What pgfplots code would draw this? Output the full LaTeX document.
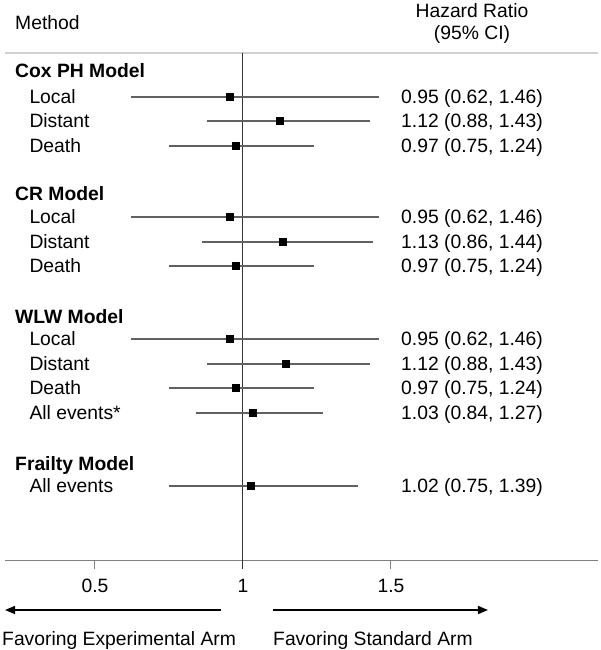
\documentclass[border=0pt]{standalone}
\usepackage{fontspec}
\setmainfont{Liberation Sans}
\usepackage{pgfplots}
\usepackage{pgfplotstable}
\pgfplotsset{compat=1.18}
\usetikzlibrary{arrows.meta}

% y = pixel row from top, hr = marker position, lo/hi = CI limits
\pgfplotstableread{
y hr lo hi
97 0.955 0.62 1.46
121 1.125 0.88 1.43
146 0.975 0.75 1.24
217 0.955 0.62 1.46
242 1.135 0.86 1.44
266 0.975 0.75 1.24
339 0.955 0.62 1.46
364 1.145 0.88 1.43
388 0.975 0.75 1.24
413 1.034 0.84 1.27
486 1.027 0.75 1.39
}\hrdata

\newcommand{\f}{\fontsize{19.3}{23}\selectfont}
\tikzset{t/.style={font=\f, inner sep=0pt, text=black},
         tb/.style={font=\f\bfseries, inner sep=0pt, text=black}}

\begin{document}
\begin{tikzpicture}
\begin{axis}[name=ax, scale only axis, width=600pt, height=650pt,
  xmin=0.1791, xmax=2.2061, ymin=0, ymax=650, y dir=reverse,
  hide axis, clip=false]
% frame lines
\addplot[draw=black!18, line width=2pt] coordinates {(0.1960,53) (2.1994,53)};
\addplot[draw=black!50, line width=1pt] coordinates {(0.1960,560) (2.1994,560)};
\addplot[draw=black!80, line width=1pt] coordinates {(1,53) (1,569)};
\addplot[draw=black!50, line width=1pt] coordinates {(0.5,560) (0.5,569)};
\addplot[draw=black!50, line width=1pt] coordinates {(1.5,560) (1.5,569)};
% CIs and estimates
\addplot[only marks, mark=square*, mark size=3.6pt, color=black,
  error bars/.cd, x dir=both, x explicit, error mark=none,
  error bar style={line width=1.2pt, color=black!62}]
  table[x=hr, y=y, x error plus expr=\thisrow{hi}-\thisrow{hr},
        x error minus expr=\thisrow{hr}-\thisrow{lo}] {\hrdata};
% arrows
\addplot[black, line width=1.4pt, -{Triangle[length=10pt,width=8pt]}] coordinates {(0.9257,610) (0.1960,610)};
\addplot[black, line width=1.4pt, -{Triangle[length=10pt,width=8pt]}] coordinates {(1.1014,610) (1.8277,610)};

% header
\node[t, anchor=base west] at (axis cs:0.2298,29.5) {Method};
\node[t, anchor=base] at (axis cs:1.7737,17.5) {Hazard Ratio};
\node[t, anchor=base] at (axis cs:1.7737,39.5) {(95\% CI)};

% headings
\node[tb, anchor=base west] at (axis cs:0.2298,78) {Cox PH Model};
\node[tb, anchor=base west] at (axis cs:0.2298,200) {CR Model};
\node[tb, anchor=base west] at (axis cs:0.2298,323) {WLW Model};
\node[tb, anchor=base west] at (axis cs:0.2298,470) {Frailty Model};

% rows: labels
\node[t, anchor=base west] at (axis cs:0.2781,103.5) {Local};
\node[t, anchor=base west] at (axis cs:0.2781,128) {Distant};
\node[t, anchor=base west] at (axis cs:0.2781,152.5) {Death};
\node[t, anchor=base west] at (axis cs:0.2781,223.5) {Local};
\node[t, anchor=base west] at (axis cs:0.2781,248.5) {Distant};
\node[t, anchor=base west] at (axis cs:0.2781,272.5) {Death};
\node[t, anchor=base west] at (axis cs:0.2781,345.5) {Local};
\node[t, anchor=base west] at (axis cs:0.2781,370.5) {Distant};
\node[t, anchor=base west] at (axis cs:0.2781,394.5) {Death};
\node[t, anchor=base west] at (axis cs:0.2781,419.5) {All events*};
\node[t, anchor=base west] at (axis cs:0.2781,492.5) {All events};
% rows: estimates
\node[t, anchor=base west] at (axis cs:1.5338,103.5) {0.95 (0.62, 1.46)};
\node[t, anchor=base west] at (axis cs:1.5338,128) {1.12 (0.88, 1.43)};
\node[t, anchor=base west] at (axis cs:1.5338,152.5) {0.97 (0.75, 1.24)};
\node[t, anchor=base west] at (axis cs:1.5338,223.5) {0.95 (0.62, 1.46)};
\node[t, anchor=base west] at (axis cs:1.5338,248.5) {1.13 (0.86, 1.44)};
\node[t, anchor=base west] at (axis cs:1.5338,272.5) {0.97 (0.75, 1.24)};
\node[t, anchor=base west] at (axis cs:1.5338,345.5) {0.95 (0.62, 1.46)};
\node[t, anchor=base west] at (axis cs:1.5338,370.5) {1.12 (0.88, 1.43)};
\node[t, anchor=base west] at (axis cs:1.5338,394.5) {0.97 (0.75, 1.24)};
\node[t, anchor=base west] at (axis cs:1.5338,419.5) {1.03 (0.84, 1.27)};
\node[t, anchor=base west] at (axis cs:1.5338,492.5) {1.02 (0.75, 1.39)};

% tick labels
\node[t, anchor=base] at (axis cs:0.5,592) {0.5};
\node[t, anchor=base] at (axis cs:1,592) {1};
\node[t, anchor=base] at (axis cs:1.5,592) {1.5};

% favoring labels
\node[t, anchor=base west] at (axis cs:0.1859,645) {Favoring Experimental Arm};
\node[t, anchor=base west] at (axis cs:1.1014,645) {Favoring Standard Arm};
\end{axis}
\pgfresetboundingbox
\path (ax.south west) rectangle (ax.north east);
\end{tikzpicture}
\end{document}
